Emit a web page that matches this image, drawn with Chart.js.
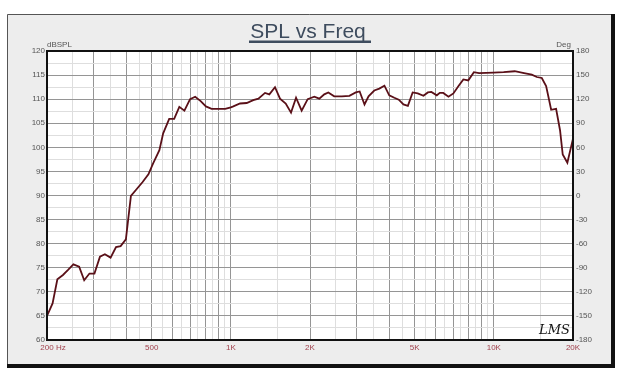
<!DOCTYPE html>
<html>
<head>
<meta charset="utf-8">
<script src="https://cdn.jsdelivr.net/npm/chart.js@4.4.0/dist/chart.umd.min.js"></script>
<style>
  html, body { margin: 0; padding: 0; background: #fff; }
  #wrap { width: 625px; height: 374px; }
</style>
</head>
<body>
<div id="wrap"><canvas id="myChart" width="625" height="374"></canvas></div>
<script>
// frequency response
var freqs = [200, 210, 219, 230, 241, 252, 265, 277, 290, 303, 318, 332, 349, 366, 381, 399,
  417, 438, 462, 486, 506, 535, 553, 583, 609, 637, 666, 700, 732, 768, 804, 845, 897, 952,
  1000, 1022, 1084, 1149, 1217, 1273, 1349, 1401, 1472, 1538, 1617, 1694, 1770, 1859, 1960,
  2077, 2170, 2266, 2348, 2472, 2643, 2824, 2986, 3089, 3223, 3339, 3511, 3668, 3837, 4003,
  4185, 4351, 4532, 4712, 4913, 5136, 5401, 5612, 5787, 6069, 6233, 6423, 6722, 7018, 7329,
  7658, 7996, 8398, 8786, 9954, 10896, 12009, 13026, 13939, 14566, 15220, 15806, 16127,
  16517, 17249, 17859, 18279, 19037, 20000];
var spl = [65.0, 67.6, 72.6, 73.5, 74.6, 75.7, 75.2, 72.4, 73.8, 73.8, 77.3, 77.8, 77.1, 79.3, 79.5, 80.9,
  89.9, 91.3, 92.8, 94.4, 96.6, 99.4, 102.9, 105.9, 105.9, 108.4, 107.6, 110.0, 110.5, 109.6, 108.5, 108.0, 108.0, 108.0,
  108.3, 108.5, 109.1, 109.2, 109.8, 110.1, 111.3, 111.0, 112.5, 110.1, 109.1, 107.2, 110.3, 107.6, 110.0,
  110.5, 110.1, 111.0, 111.4, 110.6, 110.6, 110.7, 111.4, 111.6, 108.9, 110.6, 111.8, 112.2, 112.8, 110.8,
  110.3, 109.9, 108.9, 108.6, 111.4, 111.2, 110.7, 111.4, 111.5, 110.8, 111.3, 111.3, 110.5, 111.2, 112.7,
  114.1, 113.9, 115.6, 115.4, 115.5, 115.6, 115.8, 115.4, 115.1, 114.6, 114.4, 112.7, 110.5,
  107.8, 108.0, 103.5, 98.5, 96.8, 101.8];

var xTickValues = [200, 500, 1000, 2000, 5000, 10000, 20000];
var xTickLabels = ['200', '500', '1K', '2K', '5K', '10K', '20K'];

// grid lines every 1/2 step inside each decade
var gridFreqs = [];
[100, 1000, 10000].forEach(function (d) {
  for (var m = 1; m < 10; m += 0.5) {
    var f = Math.round(m * d);
    if (f >= 200 && f <= 20000) gridFreqs.push(f);
  }
});

var points = freqs.map(function (f, i) { return { x: f, y: spl[i] }; });

var fontName = "'Liberation Sans', Arial, sans-serif";
var majorGrid = '#959595';
var minorGrid = '#dedede';

var framePlugin = {
  id: 'frame',
  beforeDraw: function (chart) {
    var c = chart.ctx, a = chart.chartArea;
    c.save();
    c.fillStyle = '#ffffff';
    c.fillRect(0, 0, chart.width, chart.height);
    // grey panel
    c.fillStyle = '#ededed';
    c.fillRect(7, 14, 606, 351);
    c.strokeStyle = '#555';
    c.lineWidth = 1;
    c.beginPath();
    c.moveTo(7.5, 365); c.lineTo(7.5, 14.5); c.lineTo(612, 14.5);
    c.stroke();
    c.fillStyle = '#111';
    c.fillRect(611, 14, 4, 354);
    c.fillRect(7, 364, 608, 4);
    // plot background
    c.fillStyle = '#ffffff';
    c.fillRect(a.left, a.top, a.right - a.left, a.bottom - a.top);
    c.restore();
  },
  afterDraw: function (chart) {
    var c = chart.ctx, a = chart.chartArea;
    c.save();
    c.strokeStyle = '#111';
    c.lineWidth = 2;
    c.strokeRect(a.left, a.top, a.right - a.left, a.bottom - a.top);
    // title
    c.fillStyle = '#3e4c5e';
    c.font = '21px ' + fontName;
    c.textAlign = 'center';
    c.textBaseline = 'alphabetic';
    c.fillText('SPL vs Freq', 308, 38);
    c.fillRect(249, 40.5, 122, 2.5);
    // axis units
    c.font = '8px ' + fontName;
    c.fillStyle = '#555';
    c.textBaseline = 'middle';
    c.textAlign = 'left';
    c.fillText('dBSPL', a.left, 45);
    c.textAlign = 'right';
    c.fillText('Deg', a.right - 2, 45);
    c.textAlign = 'left';
    c.fillStyle = '#a0404c';
    c.fillText('Hz', 56, 348);
    // logo
    c.fillStyle = '#111';
    c.font = 'italic 13px "DejaVu Serif", serif';
    c.textAlign = 'left';
    c.textBaseline = 'alphabetic';
    c.fillText('LMS', 539, 334);
    c.restore();
  }
};

var ctx = document.getElementById('myChart').getContext('2d');
var chart = new Chart(ctx, {
  type: 'line',
  data: {
    datasets: [{
      label: 'SPL',
      data: points,
      borderColor: '#5a1018',
      borderWidth: 1.8,
      pointRadius: 0,
      tension: 0,
      fill: false
    }]
  },
  options: {
    responsive: false,
    animation: false,
    layout: { padding: { top: 51, left: 0, right: 0, bottom: 0 } },
    plugins: { legend: { display: false }, tooltip: { enabled: false } },
    scales: {
      x: {
        type: 'logarithmic',
        position: 'bottom',
        min: 200,
        max: 20000,
        afterBuildTicks: function (s) {
          s.ticks = gridFreqs.map(function (v) { return { value: v }; });
        },
        afterFit: function (s) { s.height = 34; },
        border: { display: false },
        grid: {
          drawTicks: false,
          lineWidth: 1,
          color: function (c) {
            var v = c.tick ? c.tick.value : 0;
            var d = Math.pow(10, Math.floor(Math.log10(v) + 1e-9));
            return Math.abs(v / d - Math.round(v / d)) < 1e-6 ? majorGrid : minorGrid;
          }
        },
        ticks: {
          autoSkip: false,
          maxRotation: 0,
          padding: 3,
          color: '#a0404c',
          font: { family: fontName, size: 8 },
          callback: function (v) {
            var i = xTickValues.indexOf(v);
            return i >= 0 ? xTickLabels[i] : '';
          }
        }
      },
      y: {
        position: 'left',
        min: 60,
        max: 120,
        afterFit: function (s) { s.width = 47; },
        border: { display: false },
        grid: {
          drawTicks: false,
          color: function (c) {
            return c.tick && c.tick.value % 5 === 0 ? majorGrid : minorGrid;
          }
        },
        ticks: {
          stepSize: 2.5,
          autoSkip: false,
          padding: 2,
          color: '#555',
          font: { family: fontName, size: 8 },
          callback: function (v) { return v % 5 === 0 ? v : ''; }
        }
      },
      y2: {
        position: 'right',
        min: -180,
        max: 180,
        afterFit: function (s) { s.width = 52; },
        border: { display: false },
        grid: { display: false, drawTicks: false },
        ticks: {
          stepSize: 30,
          autoSkip: false,
          padding: 3,
          color: '#555',
          font: { family: fontName, size: 8 }
        }
      }
    }
  },
  plugins: [framePlugin]
});
</script>
</body>
</html>
